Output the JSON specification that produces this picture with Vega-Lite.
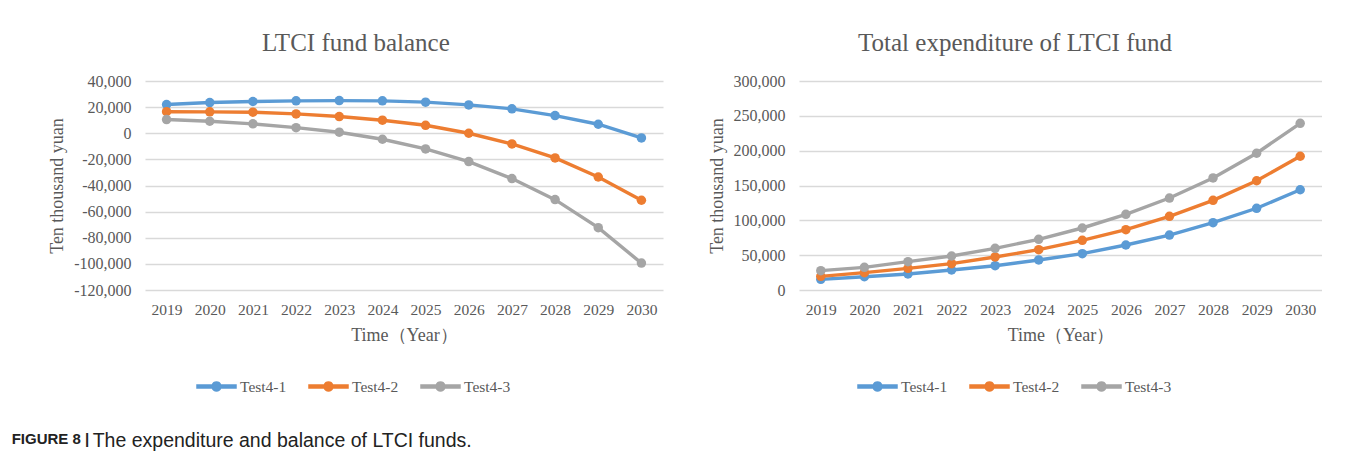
{
  "$schema": "https://vega.github.io/schema/vega-lite/v6.json",
  "background": "white",
  "padding": {"left": 11, "top": 31, "right": 0, "bottom": 0},
  "datasets": {
    "ltci": [
      {"year": "2019", "series": "Test4-1", "balance": 22000, "expenditure": 15300},
      {"year": "2020", "series": "Test4-1", "balance": 23500, "expenditure": 19100},
      {"year": "2021", "series": "Test4-1", "balance": 24300, "expenditure": 23000},
      {"year": "2022", "series": "Test4-1", "balance": 24800, "expenditure": 28700},
      {"year": "2023", "series": "Test4-1", "balance": 25000, "expenditure": 34900},
      {"year": "2024", "series": "Test4-1", "balance": 24800, "expenditure": 43100},
      {"year": "2025", "series": "Test4-1", "balance": 23800, "expenditure": 52200},
      {"year": "2026", "series": "Test4-1", "balance": 21700, "expenditure": 64600},
      {"year": "2027", "series": "Test4-1", "balance": 18700, "expenditure": 78900},
      {"year": "2028", "series": "Test4-1", "balance": 13500, "expenditure": 96700},
      {"year": "2029", "series": "Test4-1", "balance": 6900, "expenditure": 117300},
      {"year": "2030", "series": "Test4-1", "balance": -3600, "expenditure": 143900},
      {"year": "2019", "series": "Test4-2", "balance": 16500, "expenditure": 19600},
      {"year": "2020", "series": "Test4-2", "balance": 16400, "expenditure": 24900},
      {"year": "2021", "series": "Test4-2", "balance": 16100, "expenditure": 31100},
      {"year": "2022", "series": "Test4-2", "balance": 14800, "expenditure": 37800},
      {"year": "2023", "series": "Test4-2", "balance": 12800, "expenditure": 47400},
      {"year": "2024", "series": "Test4-2", "balance": 10000, "expenditure": 57900},
      {"year": "2025", "series": "Test4-2", "balance": 6100, "expenditure": 71300},
      {"year": "2026", "series": "Test4-2", "balance": 0, "expenditure": 86600},
      {"year": "2027", "series": "Test4-2", "balance": -8200, "expenditure": 105700},
      {"year": "2028", "series": "Test4-2", "balance": -18900, "expenditure": 128700},
      {"year": "2029", "series": "Test4-2", "balance": -33500, "expenditure": 156800},
      {"year": "2030", "series": "Test4-2", "balance": -51300, "expenditure": 192000},
      {"year": "2019", "series": "Test4-3", "balance": 10500, "expenditure": 27800},
      {"year": "2020", "series": "Test4-3", "balance": 9200, "expenditure": 32500},
      {"year": "2021", "series": "Test4-3", "balance": 7200, "expenditure": 40700},
      {"year": "2022", "series": "Test4-3", "balance": 4300, "expenditure": 48800},
      {"year": "2023", "series": "Test4-3", "balance": 800, "expenditure": 59800},
      {"year": "2024", "series": "Test4-3", "balance": -4600, "expenditure": 72700},
      {"year": "2025", "series": "Test4-3", "balance": -12000, "expenditure": 89000},
      {"year": "2026", "series": "Test4-3", "balance": -21700, "expenditure": 108600},
      {"year": "2027", "series": "Test4-3", "balance": -34700, "expenditure": 132000},
      {"year": "2028", "series": "Test4-3", "balance": -50800, "expenditure": 160800},
      {"year": "2029", "series": "Test4-3", "balance": -72300, "expenditure": 196300},
      {"year": "2030", "series": "Test4-3", "balance": -99400, "expenditure": 239300}
    ]
  },
  "data": {"name": "ltci"},
  "title": {
    "text": "FIGURE 8 |",
    "orient": "bottom",
    "anchor": "start",
    "frame": "bounds",
    "font": "Liberation Sans",
    "fontSize": 15,
    "fontWeight": "bold",
    "color": "#222222",
    "offset": 0,
    "dx": -37,
    "dy": -19
  },
  "vconcat": [
    {
      "title": {
        "text": "The expenditure and balance of LTCI funds.",
        "orient": "bottom",
        "anchor": "start",
        "frame": "bounds",
        "font": "Liberation Sans",
        "fontSize": 19.5,
        "fontWeight": "normal",
        "color": "#222222",
        "offset": 37,
        "dx": 44
      },
      "spacing": 45,
      "resolve": {"scale": {"color": "independent"}, "legend": {"color": "independent"}},
      "hconcat": [
        {
          "width": 518,
          "height": 209,
          "title": {"text": "LTCI fund balance", "anchor": "middle", "frame": "bounds", "offset": 17},
          "encoding": {
            "x": {
              "field": "year",
              "type": "ordinal",
              "scale": {"type": "point", "padding": 0.5},
              "axis": {"labelAngle": 0, "title": "Time（Year）", "labelPadding": 12, "titlePadding": 9, "labelFontSize": 15.5, "grid": false}
            },
            "y": {
              "field": "balance",
              "type": "quantitative",
              "scale": {"domain": [-120000, 40000], "nice": false, "zero": false},
              "axis": {
                "values": [-120000, -100000, -80000, -60000, -40000, -20000, 0, 20000, 40000],
                "format": ",d",
                "labelExpr": "replace(datum.label, '−', '-')",
                "title": "Ten thousand yuan",
                "labelPadding": 14,
                "titlePadding": 7
              }
            },
            "color": {
              "field": "series", "type": "nominal",
              "scale": {"domain": ["Test4-1", "Test4-2", "Test4-3"], "range": ["#5B9BD5", "#ED7D31", "#A5A5A5"]},
              "legend": {
                "title": null,
                "orient": "none",
                "legendX": 51,
                "legendY": 285,
                "direction": "horizontal",
                "symbolType": "M-1,-0.08L-0.2156,-0.08A0.23,0.23,0,0,1,0.2156,-0.08L1,-0.08L1,0.08L0.2156,0.08A0.23,0.23,0,0,1,-0.2156,0.08L-1,0.08Z",
                "symbolSize": 1521,
                "labelOffset": 3,
                "columnPadding": 19,
                "labelFont": "Liberation Serif",
                "labelFontSize": 15.5,
                "labelColor": "#595959"
              }
            }
          },
          "layer": [
            {"mark": {"type": "line", "strokeWidth": 3.4}},
            {"mark": {"type": "point", "filled": true, "opacity": 1, "size": 90}}
          ]
        },
        {
          "width": 523,
          "height": 209,
          "title": {"text": "Total expenditure of LTCI fund", "anchor": "middle", "frame": "bounds", "offset": 17},
          "encoding": {
            "x": {
              "field": "year",
              "type": "ordinal",
              "scale": {"type": "point", "padding": 0.5},
              "axis": {"labelAngle": 0, "title": "Time（Year）", "labelPadding": 12, "titlePadding": 9, "labelFontSize": 15.5, "grid": false}
            },
            "y": {
              "field": "expenditure",
              "type": "quantitative",
              "scale": {"domain": [0, 300000], "nice": false},
              "axis": {
                "values": [0, 50000, 100000, 150000, 200000, 250000, 300000],
                "format": ",d",
                "title": "Ten thousand yuan",
                "labelPadding": 14,
                "titlePadding": 7
              }
            },
            "color": {
              "field": "series", "type": "nominal",
              "scale": {"domain": ["Test4-1", "Test4-2", "Test4-3"], "range": ["#5B9BD5", "#ED7D31", "#A5A5A5"]},
              "legend": {
                "title": null,
                "orient": "none",
                "legendX": 58,
                "legendY": 285,
                "direction": "horizontal",
                "symbolType": "M-1,-0.08L-0.2156,-0.08A0.23,0.23,0,0,1,0.2156,-0.08L1,-0.08L1,0.08L0.2156,0.08A0.23,0.23,0,0,1,-0.2156,0.08L-1,0.08Z",
                "symbolSize": 1521,
                "labelOffset": 3,
                "columnPadding": 19,
                "labelFont": "Liberation Serif",
                "labelFontSize": 15.5,
                "labelColor": "#595959"
              }
            }
          },
          "layer": [
            {"mark": {"type": "line", "strokeWidth": 3.4}},
            {"mark": {"type": "point", "filled": true, "opacity": 1, "size": 90}}
          ]
        }
      ]
    }
  ],
  "config": {
    "font": "Liberation Serif",
    "view": {"stroke": null},
    "axis": {
      "domain": false,
      "ticks": false,
      "tickSize": 0,
      "labelColor": "#595959",
      "titleColor": "#595959",
      "labelFont": "Liberation Serif",
      "titleFont": "Liberation Serif",
      "labelFontSize": 16,
      "titleFontSize": 18,
      "titleFontWeight": "normal",
      "gridColor": "#D9D9D9",
      "gridWidth": 1.3
    },
    "title": {"font": "Liberation Serif", "fontSize": 25, "fontWeight": "normal", "color": "#595959"}
  }
}
